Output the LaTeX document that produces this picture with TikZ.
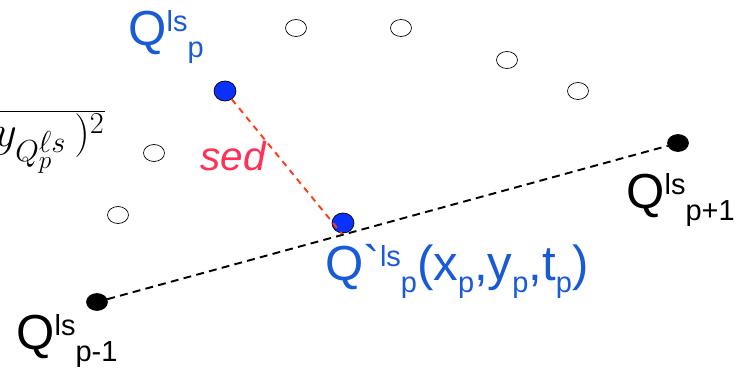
\documentclass[tikz,border=0pt]{standalone}
\usepackage[no-math]{fontspec}
\setmainfont{Liberation Sans}
\usetikzlibrary{shapes.geometric}
\definecolor{qblue}{RGB}{25,90,215}
\definecolor{dotblue}{RGB}{10,50,255}
\definecolor{sedred}{RGB}{255,50,85}
\definecolor{lnred}{RGB}{255,60,20}
\newcommand\bigtxt{\fontsize{28}{28}\selectfont}
\newcommand\smtxt{\fontsize{16.5}{16.5}\selectfont}
\newcommand\lsup{\raisebox{2.7mm}{\smtxt ls}}
\newcommand\lsub[1]{\raisebox{-2.4mm}{\smtxt #1}}
\tikzset{
  pt/.style={ellipse,draw,line width=.4pt,inner sep=0,minimum width=4.2mm,minimum height=3.4mm},
  hollow/.style={pt,fill=white},
  blk/.style={pt,fill=black},
  bluept/.style={pt,fill=dotblue,minimum width=4.4mm,minimum height=4mm},
  lbl/.style={anchor=base west,inner sep=0,font=\bigtxt},
}
\begin{document}
\begin{tikzpicture}[x=.02cm,y=-.02cm]
\useasboundingbox (0,0) rectangle (754,369);
\clip (0,0) rectangle (754,369);
% cut-off distance formula
\node[anchor=north east,inner sep=0,font=\fontsize{27}{30}\selectfont] (dist) at (105,110)
  {\(\overline{y_{Q_p^{\scriptstyle\ell s}}\,)^2}\)};
% original points
\foreach \x/\y [count=\i] in {296/28,401/28,507/60,578/91,154/153,118/215}{
  \node[hollow] (h\i) at (\x,\y) {};
}
\node[blk] (qprev) at (97,302) {};
\node[blk] (qnext) at (678,143) {};
\node[bluept] (qtop) at (225,91) {};
\node[bluept] (qproj) at (343,223) {};
\coordinate (qsync) at (342,234);
\draw[line width=1.1pt,dash pattern=on 4.5pt off 3pt] (qprev) -- (qnext);
\draw[lnred,line width=1.1pt,dash pattern=on 3.5pt off 3pt] (qtop) -- (qsync);
% labels
\node[lbl,text=qblue] (lbltop) at (128,45) {Q\lsup\lsub{p}};
\node[lbl] (lblnext) at (626,208) {Q\lsup\lsub{p+1}};
\node[lbl] (lblprev) at (16,349) {Q\lsup\lsub{p-1}};
\node[lbl,text=qblue] (lblproj) at (325,280)
  {Q\textasciigrave\lsup\lsub{p}(x\lsub{p},y\lsub{p},t\lsub{p})};
\node[anchor=base west,inner sep=0,text=sedred,font=\fontsize{23}{23}\selectfont\itshape] (lblsed) at (200,170) {sed};
\end{tikzpicture}
\end{document}
